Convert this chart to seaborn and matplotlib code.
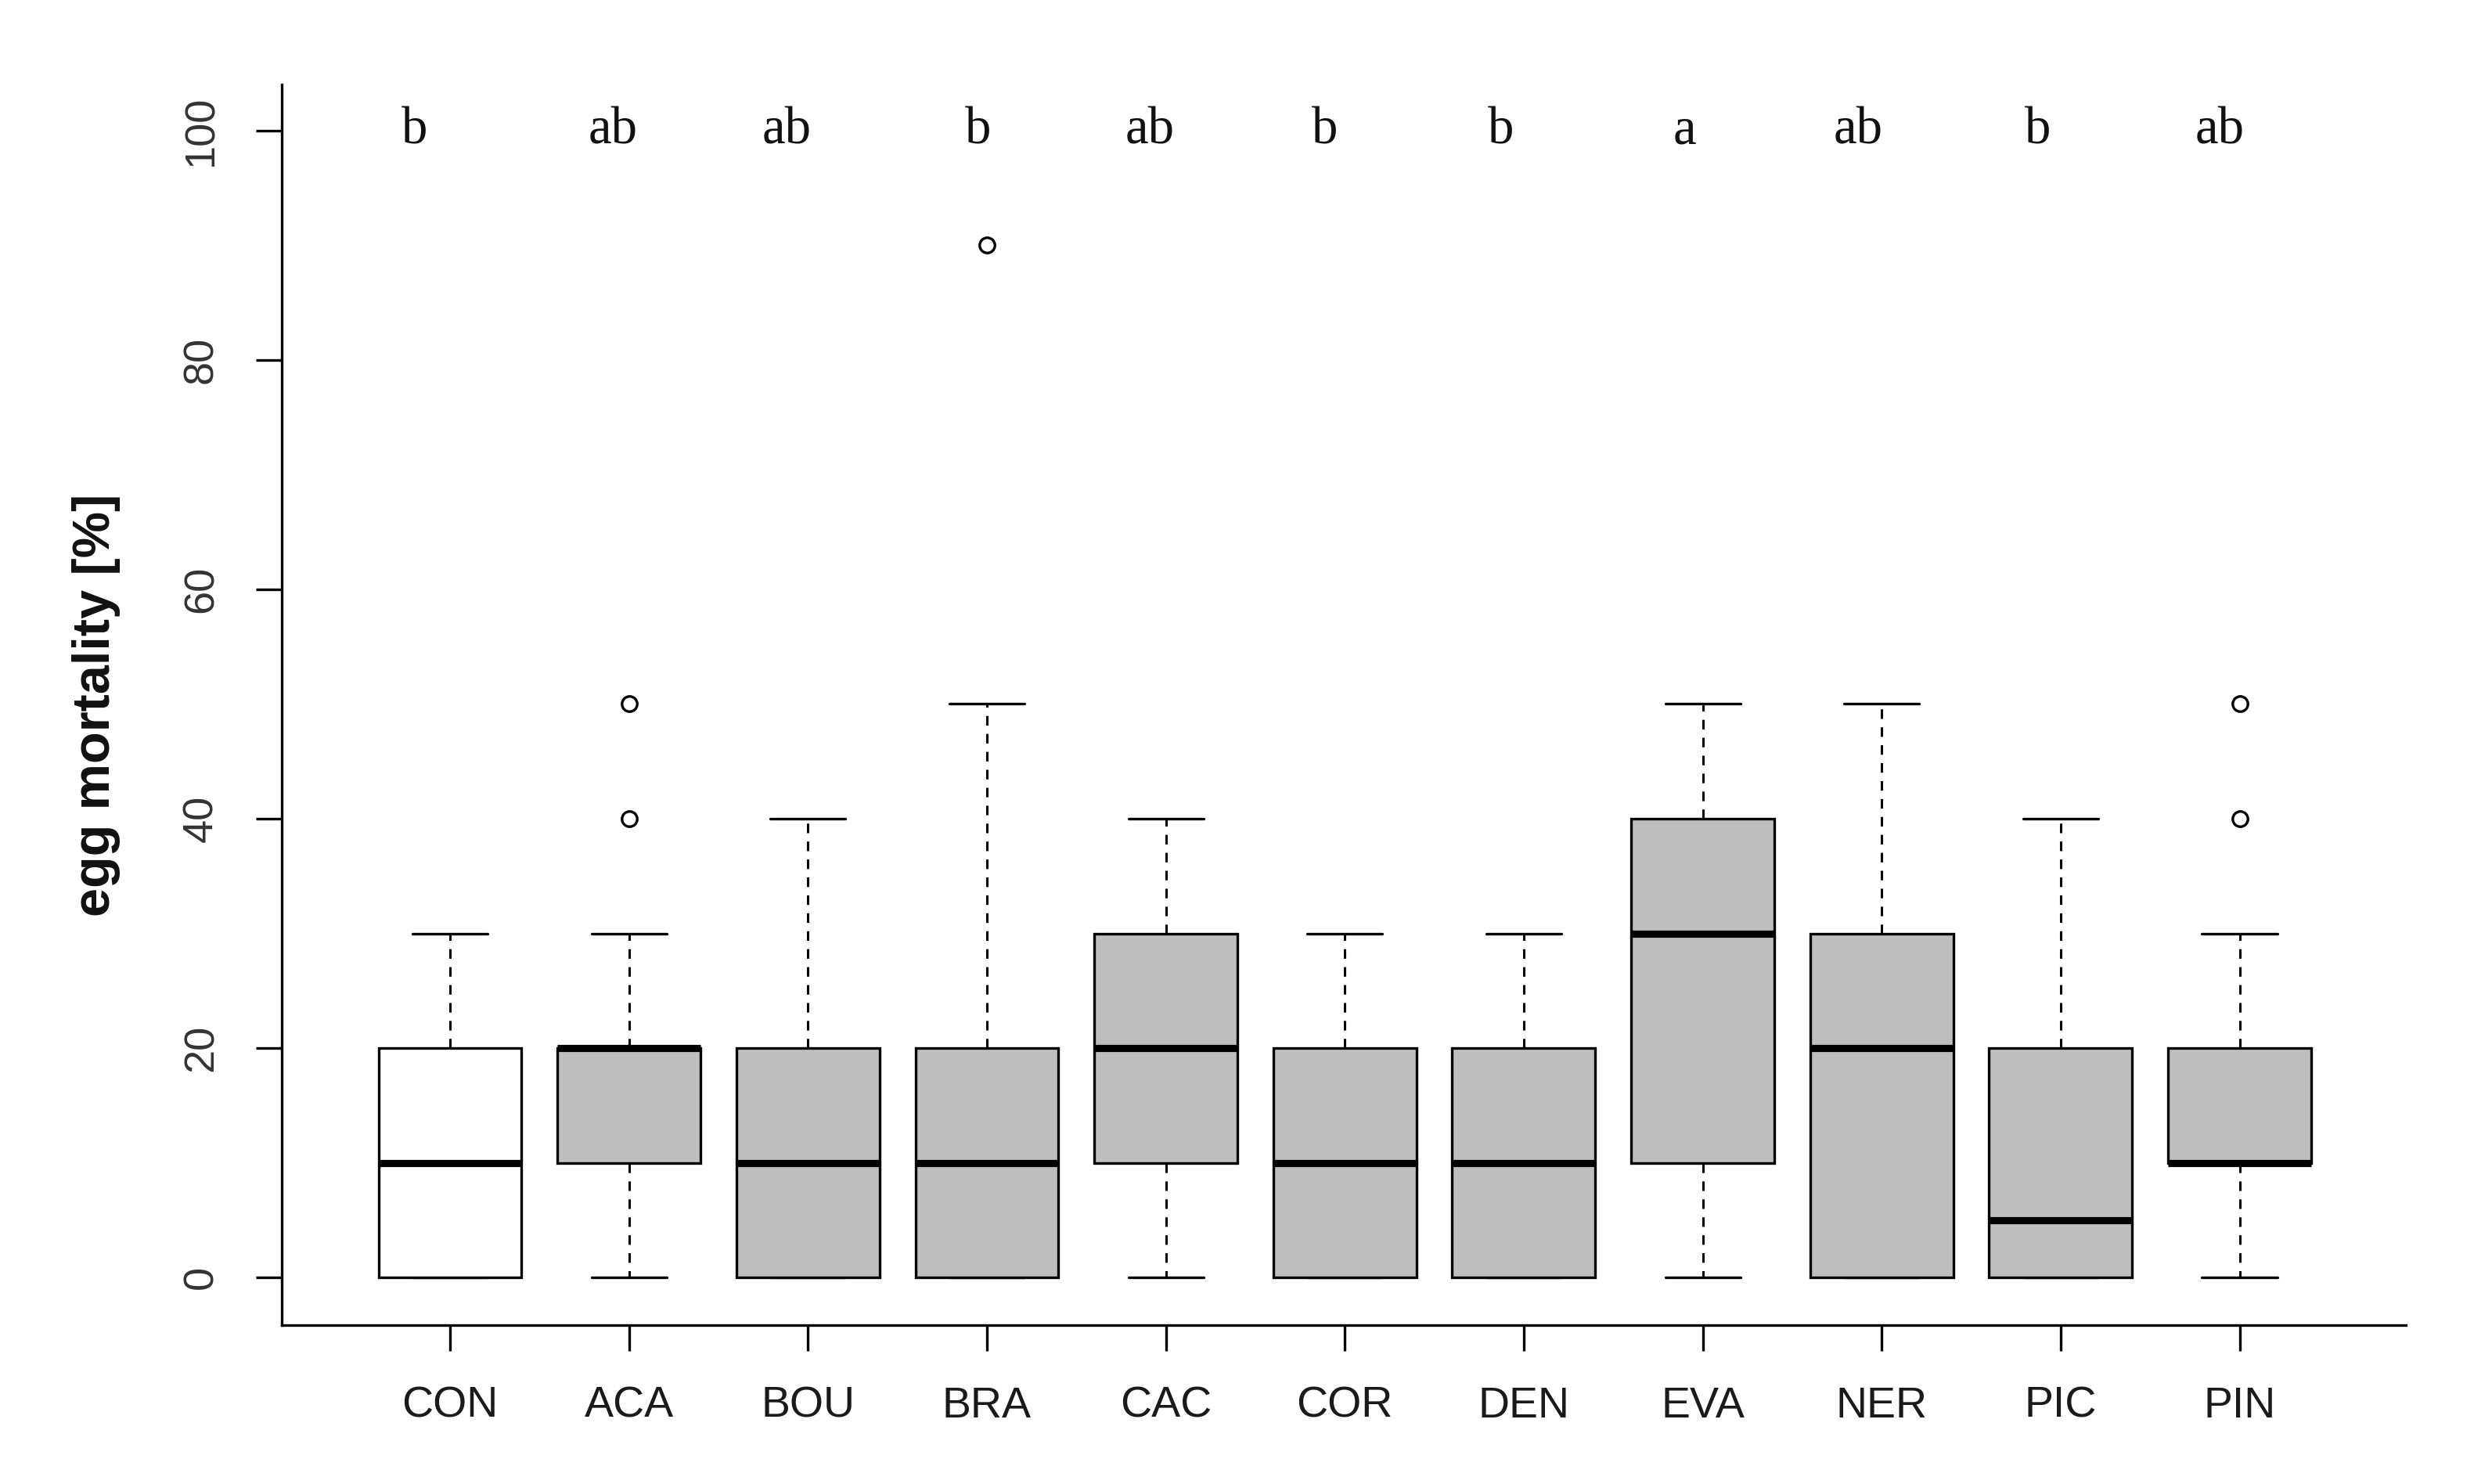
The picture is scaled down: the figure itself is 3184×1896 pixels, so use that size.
import numpy as np
import matplotlib
matplotlib.use("Agg")
import matplotlib.pyplot as plt
import seaborn as sns

# Box statistics (egg mortality, %)
groups   = ["CON", "ACA", "BOU", "BRA", "CAC", "COR", "DEN", "EVA", "NER", "PIC", "PIN"]
whis_lo  = [0, 0, 0, 0, 0, 0, 0, 0, 0, 0, 0]
q1       = [0, 10, 0, 0, 10, 0, 0, 10, 0, 0, 10]
medians  = [10, 20, 10, 10, 20, 10, 10, 30, 20, 5, 10]
q3       = [20, 20, 20, 20, 30, 20, 20, 40, 30, 20, 20]
whis_hi  = [30, 30, 40, 50, 40, 30, 30, 50, 50, 40, 30]
outliers = [[], [40, 50], [], [90], [], [], [], [], [], [], [40, 50]]
letters  = ["b", "ab", "ab", "b", "ab", "b", "b", "a", "ab", "b", "ab"]
fills    = ["white"] + ["#BEBEBE"] * 10
y_ticks  = [0, 20, 40, 60, 80, 100]

# letters were placed by hand a little left of each box
letter_dx = [-0.20, -0.09, -0.12, -0.05, -0.09, -0.11, -0.13, -0.10, -0.13, -0.13, -0.11]

sns.set_style("ticks")
plt.rcParams["font.family"] = ["Liberation Sans", "DejaVu Sans"]

fig = plt.figure(figsize=(15.92, 9.48), dpi=200, facecolor="white")
ax = fig.add_axes([0.1131, 0.107, 0.9655 - 0.1131, 0.943 - 0.107])

stats = []
for i, g in enumerate(groups):
    stats.append({
        "label": g, "whislo": whis_lo[i], "q1": q1[i], "med": medians[i],
        "q3": q3[i], "whishi": whis_hi[i], "fliers": outliers[i],
    })

pos = np.arange(len(groups))
bp = ax.bxp(
    stats, positions=pos, widths=0.8, patch_artist=True,
    capwidths=0.42,
    boxprops=dict(edgecolor="black", linewidth=1.2),
    medianprops=dict(color="black", linewidth=3.3, solid_capstyle="butt"),
    whiskerprops=dict(color="black", linewidth=1.1, linestyle=(0, (4, 3.5))),
    capprops=dict(color="black", linewidth=1.2),
    flierprops=dict(marker="o", markersize=7, markerfacecolor="none",
                    markeredgecolor="black", markeredgewidth=1.2),
)
for patch, col in zip(bp["boxes"], fills):
    patch.set_facecolor(col)
    patch.set_zorder(3)
for med in bp["medians"]:
    med.set_zorder(4)

# significance letters
for i, lt in enumerate(letters):
    ax.text(pos[i] + letter_dx[i], 100, lt, ha="center", va="center",
            fontsize=24, family=["Liberation Serif", "DejaVu Serif"], color="#111111")

ax.set_xlim(-0.94, 10.93)
ax.set_ylim(-4.16, 104.0)
ax.set_yticks(y_ticks)
ax.set_xticks(pos)
ax.set_xticklabels(groups)

ax.tick_params(axis="both", direction="out", length=12, width=1.2, color="black")
ax.tick_params(axis="x", labelsize=20, pad=16, labelcolor="#1a1a1a")
ax.tick_params(axis="y", labelsize=19.5, pad=16, labelcolor="#333333", labelrotation=90)
for lab in ax.get_yticklabels():
    lab.set_va("center")

ax.set_ylabel("egg mortality [%]", fontsize=24, fontweight="bold", color="#111111")
ax.yaxis.set_label_coords(-0.076, 0.5)

sns.despine(ax=ax)
for s in ("left", "bottom"):
    ax.spines[s].set_linewidth(1.2)
    ax.spines[s].set_color("black")

fig.savefig("out.png", dpi=200, facecolor="white")
plt.close(fig)
